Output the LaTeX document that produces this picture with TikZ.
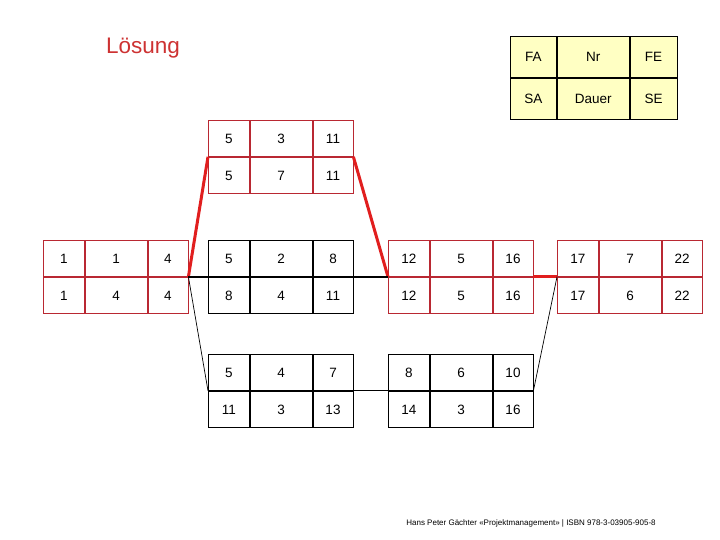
\documentclass[tikz,border=0pt]{standalone}
\usepackage{fontspec}
\setmainfont{Liberation Sans}
\usetikzlibrary{positioning}

\definecolor{netzrot}{RGB}{185,40,50}
\definecolor{pfadrot}{RGB}{225,30,30}
\definecolor{titelrot}{RGB}{205,50,50}
\definecolor{legendgelb}{RGB}{255,255,195}

\tikzset{
  zelle/.style={draw, minimum width=#1, minimum height=36pt, inner sep=0pt,
    text height=9.7pt, text depth=0pt,
    anchor=north west, line width=0.8pt, font=\fontsize{13.5}{15}\selectfont},
  legzelle/.style={zelle=#1, minimum height=41pt, fill=legendgelb},
  kritisch/.style={draw=pfadrot, line width=3pt},
  dick/.style={draw=black, line width=2pt},
  duenn/.style={draw=black, line width=0.7pt}
}

% Vorgangsknoten: Name, Position, Farbe, FA, Nr, FE, SA, Dauer, SE
\newcommand{\vorgang}[9]{%
  \node[zelle=41pt, draw=#3] (#1-fa) at (#2) {#4};
  \node[zelle=62pt, draw=#3] (#1-nr) at (#1-fa.north east) {#5};
  \node[zelle=40pt, draw=#3] (#1-fe) at (#1-nr.north east) {#6};
  \node[zelle=41pt, draw=#3] (#1-sa) at (#1-fa.south west) {#7};
  \node[zelle=62pt, draw=#3] (#1-dauer) at (#1-sa.north east) {#8};
  \node[zelle=40pt, draw=#3] (#1-se) at (#1-dauer.north east) {#9};
  \coordinate (#1-ein) at (#1-fa.south west);
  \coordinate (#1-aus) at (#1-fe.south east);
}

\begin{document}
\begin{tikzpicture}[x=1pt, y=-1pt]
  \useasboundingbox (0,0) rectangle (720,540);

  \node[text=titelrot, font=\fontsize{22.5}{26}\selectfont] (TITEL) at (143,48) {Lösung};

  % Legende
  \node[legzelle=46pt] (FA) at (510,36) {FA};
  \node[legzelle=72pt] (NR) at (FA.north east) {Nr};
  \node[legzelle=47pt] (FE) at (NR.north east) {FE};
  \node[legzelle=46pt] (SA) at (FA.south west) {SA};
  \node[legzelle=72pt] (DAUER) at (SA.north east) {Dauer};
  \node[legzelle=47pt] (SE) at (DAUER.north east) {SE};

  \vorgang{START}{43,240}{netzrot}{1}{1}{4}{1}{4}{4}
  \vorgang{A}{208,120}{netzrot}{5}{3}{11}{5}{7}{11}
  \vorgang{B}{208,240}{black}{5}{2}{8}{8}{4}{11}
  \vorgang{C}{208,354}{black}{5}{4}{7}{11}{3}{13}
  \vorgang{D}{388,240}{netzrot}{12}{5}{16}{12}{5}{16}
  \vorgang{E}{388,354}{black}{8}{6}{10}{14}{3}{16}
  \vorgang{F}{557,240}{netzrot}{17}{7}{22}{17}{6}{22}

  \draw[kritisch] (START-aus) -- (A-ein);
  \draw[dick] (START-aus) -- (B-ein);
  \draw[duenn] (START-aus) -- (C-ein);
  \draw[kritisch] (A-aus) -- (D-ein);
  \draw[dick] (B-aus) -- (D-ein);
  \draw[duenn] (C-aus) -- (E-ein);
  \draw[kritisch] (D-aus) -- (F-ein);
  \draw[duenn] (E-aus) -- (F-ein);

  \node[font=\fontsize{8}{9}\selectfont] (QUELLE) at (531,523)
    {Hans Peter Gächter «Projektmanagement» | ISBN 978-3-03905-905-8};
\end{tikzpicture}
\end{document}
